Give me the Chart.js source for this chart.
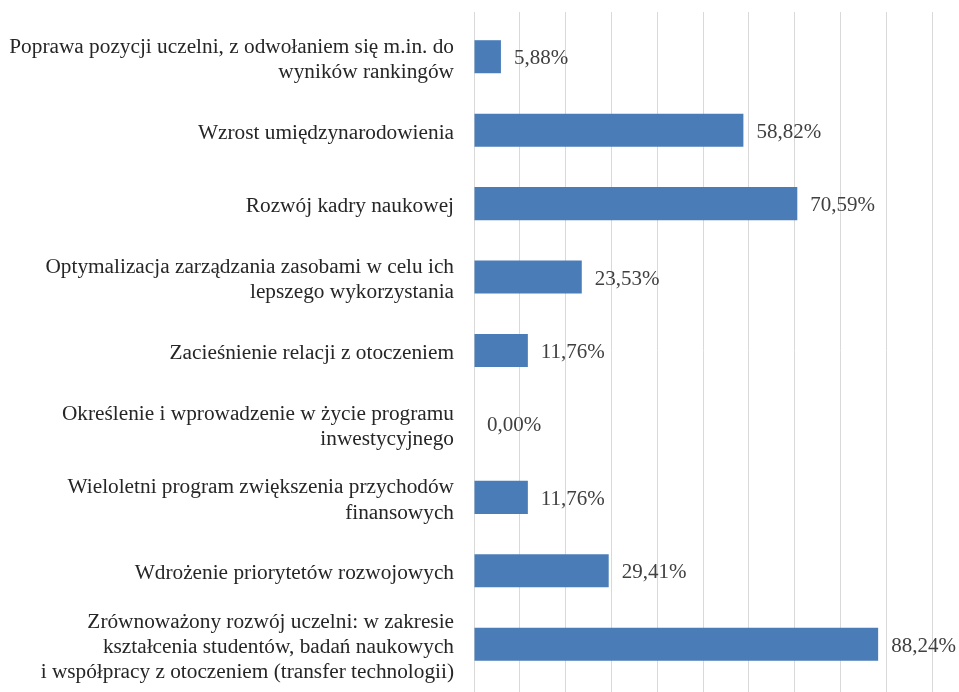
<!DOCTYPE html>
<html lang="pl">
  <head>
    <meta charset="UTF-8" />
    <title>Cele uczelni</title>
    <script src="https://cdn.jsdelivr.net/npm/chart.js"></script>
    <style>
      html, body { margin: 0; padding: 0; background: #ffffff; }
      #wrap { width: 959px; height: 692px; }
    </style>
  </head>
  <body>
    <div id="wrap"><canvas id="goalsChart"></canvas></div>
    <script>
      // categories (multi-line labels, top to bottom)
      const categories = [
        ["Poprawa pozycji uczelni, z odwołaniem się m.in. do", "wyników rankingów"],
        ["Wzrost umiędzynarodowienia"],
        ["Rozwój kadry naukowej"],
        ["Optymalizacja zarządzania zasobami w celu ich", "lepszego wykorzystania"],
        ["Zacieśnienie relacji z otoczeniem"],
        ["Określenie i wprowadzenie w życie programu", "inwestycyjnego"],
        ["Wieloletni program zwiększenia przychodów", "finansowych"],
        ["Wdrożenie priorytetów rozwojowych"],
        ["Zrównoważony rozwój uczelni: w zakresie", "kształcenia studentów, badań naukowych", "i współpracy z otoczeniem (transfer technologii)"]
      ];
      const shares = [5.88, 58.82, 70.59, 23.53, 11.76, 0.0, 11.76, 29.41, 88.24];
      const axisMin = 0;
      const axisMax = 100;
      const axisStep = 10;

      const serif = "'Liberation Serif', 'Times New Roman', serif";

      function pct(v) {
        return v.toFixed(2).replace(".", ",") + "%";
      }

      // value labels next to bars
      const valueLabels = {
        id: "valueLabels",
        afterDatasetsDraw(chart) {
          const ctx = chart.ctx;
          const meta = chart.getDatasetMeta(0);
          ctx.save();
          ctx.font = "21px " + serif;
          ctx.fillStyle = "#404040";
          ctx.textAlign = "left";
          ctx.textBaseline = "middle";
          meta.data.forEach((bar, i) => {
            ctx.fillText(pct(shares[i]), bar.x + 13, bar.y + 2);
          });
          ctx.restore();
        }
      };

      new Chart(document.getElementById("goalsChart"), {
        type: "bar",
        data: {
          labels: categories,
          datasets: [
            {
              data: shares,
              backgroundColor: "#4a7cb8",
              borderWidth: 0,
              categoryPercentage: 0.9,
              barPercentage: 0.5
            }
          ]
        },
        options: {
          indexAxis: "y",
          responsive: true,
          maintainAspectRatio: false,
          animation: false,
          layout: { padding: { top: 12, right: 27, bottom: 0, left: 0 } },
          plugins: {
            legend: { display: false },
            tooltip: { enabled: false }
          },
          scales: {
            x: {
              position: "bottom",
              min: axisMin,
              max: axisMax,
              ticks: { stepSize: axisStep, display: false },
              grid: { color: "#d9d9d9", lineWidth: 1, tickLength: 11 },
              border: { display: false }
            },
            x2: {
              position: "top",
              min: axisMin,
              max: axisMax,
              ticks: { stepSize: axisStep, display: false },
              grid: { color: "#d9d9d9", lineWidth: 1, tickLength: 8, drawOnChartArea: false },
              border: { display: false }
            },
            y: {
              grid: { display: false, drawTicks: false },
              border: { display: false },
              ticks: {
                autoSkip: false,
                color: "#262626",
                padding: 20,
                labelOffset: 3,
                font: { family: serif, size: 21.3, lineHeight: 1.18 }
              },
              afterFit(scale) {
                scale.width = 474;
                scale.paddingTop = 0;
                scale.paddingBottom = 0;
              }
            }
          }
        },
        plugins: [valueLabels]
      });
    </script>
  </body>
</html>
